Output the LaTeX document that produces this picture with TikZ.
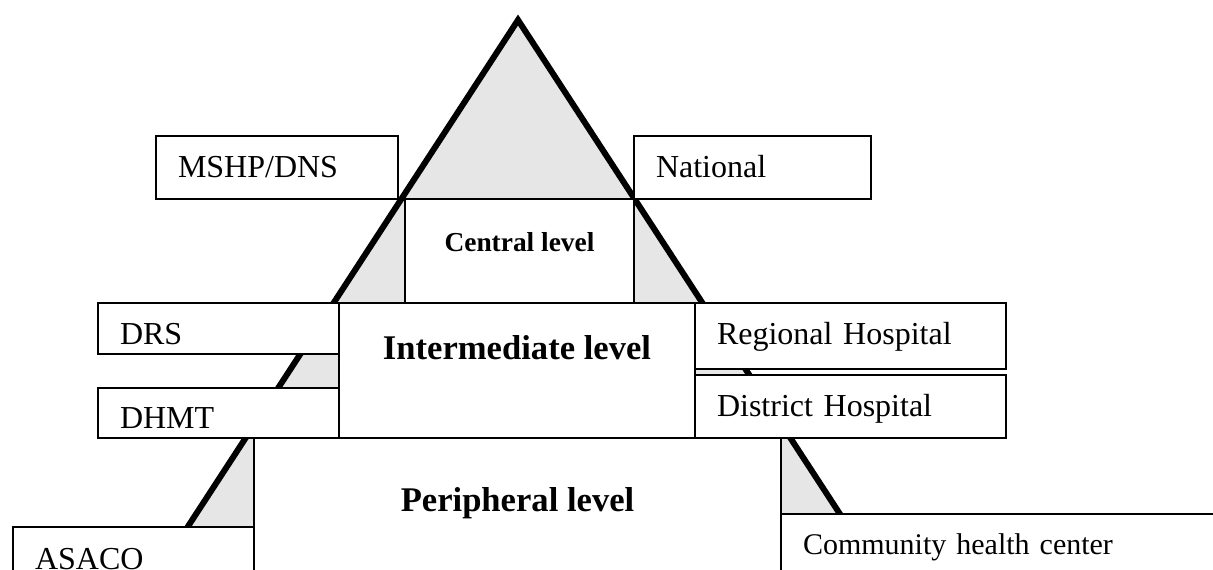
\documentclass[tikz,border=0pt]{standalone}
\usepackage{fontspec}
\setmainfont{Liberation Serif}
\usepackage{tikz}
\definecolor{pyrgrey}{HTML}{E6E6E6}
\tikzset{
  font={\fontsize{16pt}{18}\selectfont}}

\begin{document}
\begin{tikzpicture}[x=0.5pt,y=-0.5pt]
\tikzstyle{every node}+=[inner ysep=0pt]
\tikzstyle{lvl}=[draw=black, fill=white, line width=1pt, anchor=north west, inner xsep=11pt, align=left]
\tikzstyle{mid}=[draw=black, fill=white, line width=1pt, anchor=north west, inner xsep=0pt, align=center, font={\fontsize{17.3pt}{20}\selectfont\bfseries}]
\useasboundingbox (0,0) rectangle (1213,569);
\clip (0,0) rectangle (1213,569);
% pyramid
\coordinate (apex) at (518,20);
\coordinate (baseL) at (127,620);
\coordinate (baseR) at (909,620);
\filldraw [fill=pyrgrey, draw=black, line width=3pt, line join=miter] (apex) -- (baseL) -- (baseR) -- cycle;
% central level
\node [lvl] (mshp) at (155,135) [text width=99pt, text height=20.5pt, text depth=11pt] {MSHP/DNS};
\node [lvl] (natl) at (633,135) [text width=96.5pt, text height=20.5pt, text depth=11pt] {National};
\node [mid] (central) at (404,198) [minimum width=114.5pt, text height=26pt, text depth=26pt, font={\fontsize{13.7pt}{16}\selectfont\bfseries}] {Central level};
% intermediate level
\node [lvl] (drs) at (97,302) [text width=98.5pt, text height=20.5pt, text depth=5pt] {DRS};
\node [lvl] (dhmt) at (97,387) [text width=98.5pt, text height=20pt, text depth=5pt] {DHMT};
\node [mid] (inter) at (338,302) [minimum width=178pt, text height=28pt, text depth=39.5pt] {Intermediate level};
\node [lvl] (reghosp) at (694,302) [text width=133.5pt, text height=20.5pt, text depth=12.5pt] {Regional Hospital};
\node [lvl] (disthosp) at (694,374) [text width=133.5pt, text height=20.5pt, text depth=11pt] {District Hospital};
% peripheral level
\node [mid] (peri) at (253,437) [minimum width=263.5pt, text height=36.5pt, text depth=43.5pt] {Peripheral level};
\node [lvl] (asaco) at (12,526) [text width=98.5pt, text height=21pt, text depth=19pt] {ASACO};
\node [lvl] (comm) at (780,513) [text width=208pt, text height=20pt, text depth=20pt, font={\fontsize{15pt}{18}\selectfont}] {Community health center};
\end{tikzpicture}
\end{document}
